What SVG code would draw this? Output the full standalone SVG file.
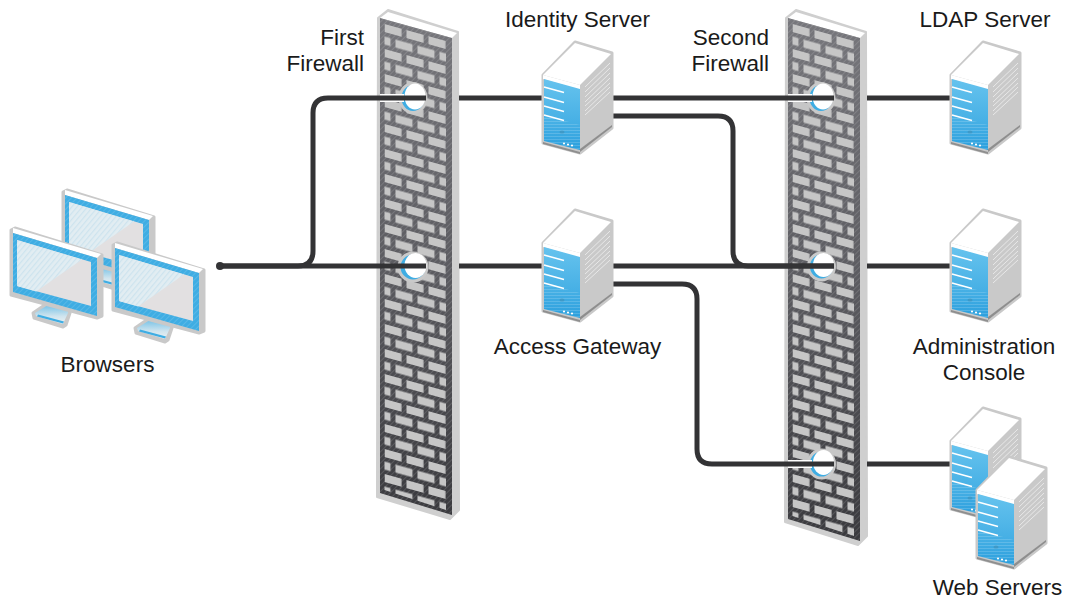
<svg xmlns="http://www.w3.org/2000/svg" xmlns:xlink="http://www.w3.org/1999/xlink" width="1065" height="599" viewBox="0 0 1065 599">
<style>
text{font-family:"Liberation Sans",Arial,sans-serif;font-size:22.5px;fill:#1a1a1a}
.e{text-anchor:end}.m{text-anchor:middle}
.line{fill:none;stroke:#333335;stroke-width:5}
.halo{fill:none;stroke:#fff;stroke-width:8}
.ring{fill:none;stroke:#c9c9c9;stroke-width:3}
.blue{fill:#3fade3}
.hw{fill:#fff}
.stripe{stroke:#fff;stroke-width:1.6;fill:none}
.sl{stroke:#e8e8e8;stroke-width:1;fill:none}
.br{fill:#c6c6c6}
</style>
<defs>
<linearGradient id="fwDark1" x1="0" y1="0" x2="0" y2="1"><stop offset="0" stop-color="#77777c"/><stop offset=".5" stop-color="#5c5c61"/><stop offset="1" stop-color="#3a3a3e"/></linearGradient>
<linearGradient id="sv" x1="0" y1="0" x2="0" y2="1"><stop offset="0" stop-color="#66c3ee"/><stop offset=".6" stop-color="#47b0e5"/><stop offset="1" stop-color="#2b9fdd"/></linearGradient>
<linearGradient id="neck" x1="0" y1="0" x2="0" y2="1"><stop offset="0" stop-color="#3fade3"/><stop offset=".7" stop-color="#cfe4ee"/><stop offset="1" stop-color="#eef2f3"/></linearGradient>
<pattern id="hatch" width="4" height="4" patternUnits="userSpaceOnUse" patternTransform="rotate(-45)"><rect width="4" height="1" fill="#fff" opacity=".13"/></pattern>
<pattern id="scrHatch" width="4" height="4" patternUnits="userSpaceOnUse" patternTransform="rotate(-50)"><rect width="4" height="4" fill="#e2edf2"/><rect width="4" height="1.200" fill="#cde3ee"/></pattern>
<pattern id="svHatch" width="3" height="3" patternUnits="userSpaceOnUse"><rect width="3" height="1" fill="#fff" opacity=".16"/></pattern>
<pattern id="bricks" width="22" height="25" patternUnits="userSpaceOnUse" patternTransform="translate(384.500 24) skewY(15.500)">
<rect x="0" y="0" width="17" height="8" class="br"/>
<rect x="0" y="12.500" width="6" height="8" class="br"/>
<rect x="11" y="12.500" width="11" height="8" class="br"/>
</pattern>
<pattern id="bricks2" width="22" height="25" patternUnits="userSpaceOnUse" patternTransform="translate(792.500 24) skewY(15.500)">
<rect x="0" y="0" width="17" height="8" class="br"/>
<rect x="0" y="12.500" width="6" height="8" class="br"/>
<rect x="11" y="12.500" width="11" height="8" class="br"/>
</pattern>
<g id="server">
<path d="M34 2 71 13V88L39 113 2 103V35Z" fill="#c9c9c9" stroke="#c9c9c9" stroke-width="3" stroke-linejoin="round"/>
<path d="M34 3 70 14 39 45 2 35Z" class="hw"/>
<path d="M2 35 39 45V50L2 39Z" class="hw"/>
<path d="M2 102 39 112V114L2 104Z" fill="#8f8f8f"/>
<path d="M39 112 71 87V85L39 109Z" fill="#8e8e8e"/>
<path d="M3 39 39 49V110L3 101Z" fill="url(#sv)"/>
<path d="M3 75 39 85V110L3 101Z" fill="url(#svHatch)"/>
<path class="stripe" d="M3 47 23 52.500M3 57 23 62.500M3 66 23 71.500M3 75 23 80.500"/>
<path class="sl" d="M44 47 69 23M44 52 69 28M44 57 69 33M44 62 69 38M44 66 69 43M44 71 69 47M44 75 69 52"/>
<ellipse cx="21" cy="92" rx="2.500" ry="1.500" fill="#3f8fb8" opacity=".6"/>
<circle cx="23" cy="103.500" r="1.100" fill="#fff"/><circle cx="27" cy="104.500" r="1.100" fill="#fff"/><circle cx="31" cy="105.500" r="1.100" fill="#fff"/>
</g>
<g id="monitor">
<path d="M47 296 46 304 33 313 34 318 63 327 66 325 70 313V305Z" fill="#c9c9c9" stroke="#c9c9c9" stroke-width="3" stroke-linejoin="round"/>
<path d="M48 298 68 305V313L63 324 36 316 35 313 48 305Z" fill="url(#neck)"/>
<path d="M37 316.500 63 323.500 64 321.500 38 314.500Z" class="blue"/>
<path d="M11 230 15 228 102 255V316L97 318 11 295Z" fill="#c9c9c9" stroke="#c9c9c9" stroke-width="3" stroke-linejoin="round"/>
<path d="M13 228 101 254 97 258 13 233Z" class="hw"/>
<path d="M13 233 97 258V316L13 292Z" class="blue"/>
<path d="M13 233 97 258V316L13 292Z" fill="url(#hatch)"/>
<path d="M17 240 91 262V306L17 286Z" fill="#e2e0e1"/>
<path d="M17 240 82 259.500 36 291.500 17 286Z" fill="url(#scrHatch)"/>
</g>
</defs>

<g id="first-firewall">
<path d="M378 18 388 10 458 32 459 510 450 519 377 497Z" fill="#cfcfcf" stroke="#cfcfcf" stroke-width="2" stroke-linejoin="round"/>
<path d="M380 18 388 12 457 33 452 38Z" fill="#fff"/>
<path d="M380 18 452 38V515L380 493Z" fill="url(#fwDark1)"/>
<path d="M380 18 452 38V515L380 493Z" fill="url(#hatch)"/>
<path d="M384.500 20 446 37V510L384.500 490Z" fill="url(#bricks)"/>
<ellipse class="blue" cx="413" cy="98" rx="13" ry="14.500"/>
<ellipse class="ring" cx="413" cy="98" rx="13" ry="14.500"/>
<ellipse class="hw" cx="415" cy="96.500" rx="10.500" ry="13"/>
<ellipse class="blue" cx="413" cy="267" rx="14" ry="14"/>
<ellipse class="ring" cx="413" cy="267" rx="14" ry="14"/>
<ellipse class="hw" cx="415.500" cy="265.500" rx="11" ry="12.500"/>
</g>

<g id="second-firewall">
<path d="M786 18 796 10 866 32 867 536 858 545 785 522Z" fill="#cfcfcf" stroke="#cfcfcf" stroke-width="2" stroke-linejoin="round"/>
<path d="M788 18 796 12 865 33 860 38Z" fill="#fff"/>
<path d="M788 18 860 38V541L788 519Z" fill="url(#fwDark1)"/>
<path d="M788 18 860 38V541L788 519Z" fill="url(#hatch)"/>
<path d="M792.500 20 854 37V536L792.500 516Z" fill="url(#bricks2)"/>
<ellipse class="blue" cx="821" cy="98" rx="13" ry="14.500"/>
<ellipse class="ring" cx="821" cy="98" rx="13" ry="14.500"/>
<ellipse class="hw" cx="823" cy="96.500" rx="10.500" ry="13"/>
<ellipse class="blue" cx="821.500" cy="266.500" rx="13" ry="13.500"/>
<ellipse class="ring" cx="821.500" cy="266.500" rx="13" ry="13.500"/>
<ellipse class="hw" cx="823.500" cy="265" rx="10.500" ry="12"/>
<ellipse class="blue" cx="821.500" cy="464" rx="13" ry="14"/>
<ellipse class="ring" cx="821.500" cy="464" rx="13" ry="14"/>
<ellipse class="hw" cx="823.500" cy="462.500" rx="10.500" ry="12.500"/>
</g>

<g id="connectors">
<path class="halo" d="M380 98H404M788 98H812M788 464H812"/>
<path class="line" d="M220 266H298Q313 266 313 251V113Q313 98 328 98H426"/>
<path class="line" d="M220 266H426"/>
<path class="line" d="M459 98H545M459 266H545"/>
<path class="line" d="M610 98H834"/>
<path class="line" d="M610 116H718Q733 116 733 131V251Q733 266 748 266H834"/>
<path class="line" d="M610 266H834"/>
<path class="line" d="M610 284H682Q697 284 697 299V449Q697 464 712 464H834"/>
<path class="line" d="M867 98H953M867 266H953M867 464H953"/>
<circle cx="220" cy="266" r="4" fill="#333335"/>
</g>

<g id="browsers">
<use xlink:href="#monitor" href="#monitor" transform="translate(52 -38)"/>
<use xlink:href="#monitor" href="#monitor"/>
<use xlink:href="#monitor" href="#monitor" transform="translate(102 15)"/>
<text x="107.500" y="372" class="m">Browsers</text>
</g>
<g id="identity-server">
<use xlink:href="#server" href="#server" transform="translate(541 40)"/>
<text x="577.500" y="27" class="m">Identity Server</text>
</g>
<g id="access-gateway">
<use xlink:href="#server" href="#server" transform="translate(541 208)"/>
<text x="577.500" y="354" class="m">Access Gateway</text>
</g>
<g id="ldap-server">
<use xlink:href="#server" href="#server" transform="translate(949 40)"/>
<text x="985" y="27" class="m">LDAP Server</text>
</g>
<g id="administration-console">
<use xlink:href="#server" href="#server" transform="translate(949 208)"/>
<text x="984" y="354" class="m">Administration</text>
<text x="984" y="380" class="m">Console</text>
</g>
<g id="web-servers">
<use xlink:href="#server" href="#server" transform="translate(949 406)"/>
<use xlink:href="#server" href="#server" transform="translate(975 455)"/>
<text x="997.500" y="595" class="m">Web Servers</text>
</g>
<g id="first-firewall-label">
<text x="364" y="45" class="e">First</text>
<text x="364" y="71" class="e">Firewall</text>
</g>
<g id="second-firewall-label">
<text x="769" y="45" class="e">Second</text>
<text x="769" y="71" class="e">Firewall</text>
</g>
</svg>
